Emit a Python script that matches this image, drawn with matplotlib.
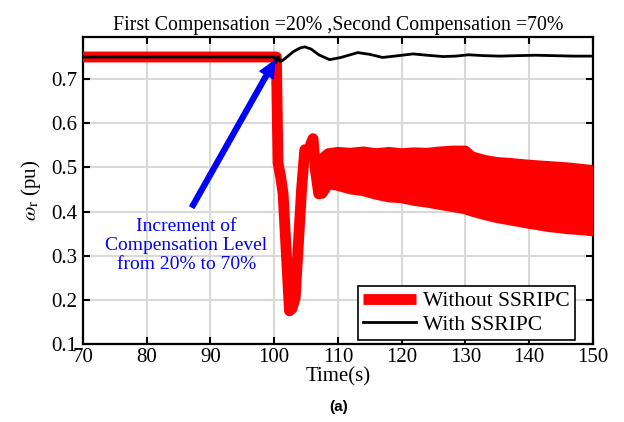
import numpy as np
import matplotlib
matplotlib.use("Agg")
import matplotlib.pyplot as plt

plt.rcParams["font.family"] = ["Liberation Serif", "DejaVu Serif"]
plt.rcParams["mathtext.fontset"] = "stix"

# With SSRIPC (black)
t_with = [70, 100, 100.3, 100.6, 100.9, 101.3, 102, 103, 104, 104.8, 105.8, 107,
          108.7, 110.5, 113.1, 115, 117, 119.5, 121.8, 124, 126.5, 128.5, 130.5,
          133, 135.5, 138, 141, 144, 147, 150]
w_with = [0.75, 0.75, 0.738, 0.752, 0.74, 0.742, 0.75, 0.762, 0.77, 0.773, 0.768,
          0.755, 0.744, 0.749, 0.76, 0.756, 0.749, 0.753, 0.757, 0.754, 0.751,
          0.752, 0.755, 0.753, 0.752, 0.753, 0.754, 0.753, 0.752, 0.752]

# Without SSRIPC (red): transient part
t_without = [70, 100.35, 100.6, 101.0, 101.4, 102.4, 102.8, 103.3, 104.3, 104.8,
             105.3, 105.8, 106.1, 106.5, 107.0, 107.5]
w_without = [0.75, 0.75, 0.51, 0.48, 0.44, 0.175, 0.18, 0.205, 0.45, 0.54, 0.53,
             0.555, 0.565, 0.49, 0.44, 0.47]

# Without SSRIPC (red): envelope of the sustained oscillation
t_band = [107.5, 108.5, 110, 112, 114, 116, 118, 120, 122, 124, 126, 128, 130,
          131, 133, 135, 137, 140, 143, 146, 148, 150]
band_hi = [0.519, 0.531, 0.534, 0.532, 0.535, 0.531, 0.534, 0.531, 0.533, 0.532,
           0.535, 0.537, 0.537, 0.524, 0.516, 0.511, 0.509, 0.505, 0.502, 0.499,
           0.496, 0.493]
band_lo = [0.441, 0.463, 0.459, 0.451, 0.447, 0.439, 0.433, 0.431, 0.425, 0.421,
           0.416, 0.411, 0.406, 0.401, 0.393, 0.386, 0.381, 0.373, 0.366, 0.361,
           0.359, 0.356]

fig = plt.figure(figsize=(6.24, 4.22), dpi=100)
ax = fig.add_axes([0.133, 0.185, 0.817, 0.727])

red_lw = 7.8
ax.plot(t_without, w_without, color="red", lw=red_lw, solid_capstyle="round",
        solid_joinstyle="round", label="Without SSRIPC", zorder=3)
ax.fill(np.concatenate([t_band, t_band[::-1]]),
        np.concatenate([band_hi, band_lo[::-1]]),
        facecolor="red", edgecolor="red", lw=red_lw, joinstyle="round", zorder=3)
ax.plot(t_with, w_with, color="black", lw=2, label="With SSRIPC", zorder=4)

ax.annotate("", xy=(100.1, 0.742), xytext=(87.1, 0.41),
            arrowprops=dict(facecolor="blue", edgecolor="blue", width=3.5,
                            headwidth=11, headlength=12), zorder=5)
ax.text(86.2, 0.322, "Increment of\nCompensation Level\nfrom 20% to 70%",
        color="blue", ha="center", va="center", fontsize=14, linespacing=1.15)

ax.set_xlim(70, 150)
ax.set_ylim(0.1, 0.795)
ax.set_xticks(np.arange(70, 151, 10))
ax.set_yticks(np.arange(0.1, 0.71, 0.1))
ax.set_yticklabels(["0.1", "0.2", "0.3", "0.4", "0.5", "0.6", "0.7"])
ax.grid(True, color="#d9d9d9", lw=1.5)
ax.set_axisbelow(True)
ax.tick_params(direction="in", top=True, right=True, length=5, width=1.5,
               labelsize=15, pad=4)
ax.tick_params(axis="x", pad=3)
for s in ax.spines.values():
    s.set_linewidth(1.6)

ax.set_xlabel("Time(s)", fontsize=15, labelpad=0)
ax.set_ylabel(r"$\omega_{\rm r}$ (pu)", fontsize=15, labelpad=6)
ax.set_title("First Compensation =20% ,Second Compensation =70%", fontsize=14.3,
             pad=5)

leg = ax.legend(loc="lower right", bbox_to_anchor=(0.965, 0.013), borderaxespad=0,
                fontsize=15.5, fancybox=False, framealpha=1, edgecolor="black",
                handlelength=2.45, handletextpad=0.33, borderpad=0.25,
                labelspacing=0.15)
leg.get_frame().set_linewidth(1.2)
leg.legend_handles[0].set_solid_capstyle("butt")

fig.text(0.542, 0.025, "(a)", fontsize=11, fontweight="bold",
         family=["Liberation Sans", "DejaVu Sans"], ha="center")

fig.savefig("out.png", dpi=100)
